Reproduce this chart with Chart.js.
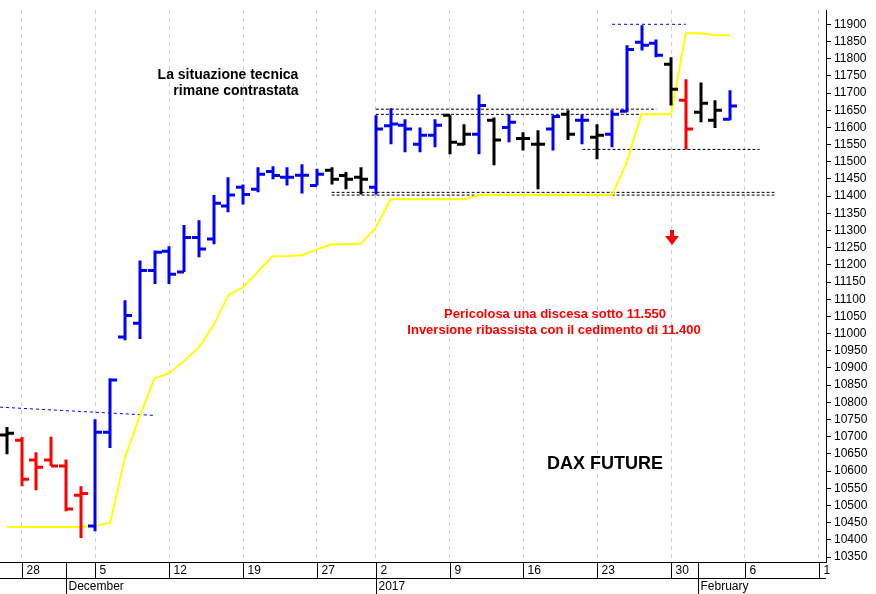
<!DOCTYPE html>
<html>
<head>
<meta charset="utf-8">
<script src="https://cdn.jsdelivr.net/npm/chart.js@4.4.0/dist/chart.umd.min.js"></script>
<style>body{margin:0;background:#fff}</style>
</head>
<body>
<canvas id="c" width="876" height="594"></canvas>
<script>
// daily bars, one slot per trading day (Nov 25 2016 .. Feb 3 2017)
var opens  = [10705,10690,10632,10632,10615,10530,10440,10713,10990,11030,11184,11240,11179,11280,11275,11371,11426,11420,11472,11455,11461,11431,11475,11460,11455,11426,11605,11606,11551,11577,11635,11551,11580,11621,11600,11568,11551,11595,11638,11621,11571,11580,11647,11848,11845,11784,11679,11644,11621,11624];
var highs  = [10728,10699,10655,10700,10634,10556,10751,10870,11097,11213,11242,11254,11316,11330,11403,11455,11434,11484,11487,11484,11493,11480,11484,11470,11484,11635,11656,11624,11600,11624,11635,11609,11696,11629,11638,11586,11592,11635,11650,11638,11609,11650,11839,11897,11856,11804,11740,11731,11679,11708];
var lows   = [10649,10556,10544,10615,10483,10405,10425,10667,10981,10984,11144,11144,11179,11222,11260,11353,11376,11411,11449,11431,11408,11431,11434,11420,11405,11405,11551,11528,11528,11542,11522,11548,11522,11490,11557,11533,11420,11533,11563,11551,11507,11542,11644,11824,11804,11664,11536,11615,11598,11621];
var closes = [10710,10576,10611,10615,10490,10535,10713,10865,11053,11184,11237,11173,11280,11246,11379,11403,11405,11464,11460,11455,11461,11464,11449,11449,11449,11595,11610,11595,11577,11606,11557,11580,11664,11563,11615,11568,11551,11632,11580,11621,11577,11638,11827,11839,11810,11711,11595,11670,11650,11662];
var colors = ['k','r','r','r','r','r','b','b','b','b','b','b','b','b','b','b','b','b','b','b','b','b','k','k','k','b','b','b','b','b','k','k','b','k','b','k','k','b','k','b','k','b','b','b','b','k','r','k','k','b'];
var trend  = [10437,10437,10437,10437,10437,10437,10440,10450,10640,10760,10870,10885,10920,10960,11024,11112,11135,11180,11225,11226,11228,11245,11260,11260,11262,11309,11391,11391,11391,11391,11391,11391,11403,11403,11403,11403,11403,11403,11403,11403,11403,11403,11499,11638,11638,11638,11874,11874,11868,11868];

var dayTicks   = [1,6,11,16,21,25,30,35,40,45,50,55];
var dayLabels  = ['28','5','12','19','27','2','9','16','23','30','6','1'];
var monthTicks = [4,25,46.8];
var monthLabels = ['December','2017','February'];
var yTicks = [];
for (var v = 10350; v <= 11900; v += 50) yTicks.push(v);

var palette = {k:'#000000', r:'#ff0000', b:'#0000ff'};

function seg(x0, y0, x1, y1) { return [{x:x0, y:y0}, {x:x1, y:y1}]; }

var ohlcPlugin = {
  id: 'ohlc',
  afterDatasetsDraw: function(chart) {
    var ctx = chart.ctx, xs = chart.scales.x, ys = chart.scales.y;
    ctx.save();
    ctx.lineWidth = 3;
    ctx.lineCap = 'butt';
    for (var i = 0; i < opens.length; i++) {
      var x = Math.round(xs.getPixelForValue(i));
      ctx.strokeStyle = palette[colors[i]];
      ctx.beginPath();
      ctx.moveTo(x, ys.getPixelForValue(highs[i]));
      ctx.lineTo(x, ys.getPixelForValue(lows[i]));
      ctx.moveTo(x - 7, ys.getPixelForValue(opens[i]));
      ctx.lineTo(x, ys.getPixelForValue(opens[i]));
      ctx.moveTo(x, ys.getPixelForValue(closes[i]));
      ctx.lineTo(x + 7, ys.getPixelForValue(closes[i]));
      ctx.stroke();
    }
    // texts
    ctx.textAlign = 'center';
    ctx.textBaseline = 'middle';
    ctx.fillStyle = '#000';
    ctx.font = 'bold 14px Arial, "Liberation Sans"';
    ctx.fillText('La situazione tecnica', 228, 75);
    ctx.fillText('rimane contrastata', 236, 91);
    ctx.font = 'bold 13px Arial, "Liberation Sans"';
    ctx.fillStyle = '#ff0000';
    ctx.fillText('Pericolosa una discesa sotto 11.550', 555, 314);
    ctx.fillText('Inversione ribassista con il cedimento di 11.400', 554, 330);
    ctx.fillStyle = '#000';
    ctx.font = 'bold 18px Arial, "Liberation Sans"';
    ctx.fillText('DAX FUTURE', 605, 464);
    // red arrow
    ctx.fillStyle = '#ff0000';
    ctx.fillRect(670, 230, 4, 6);
    ctx.beginPath();
    ctx.moveTo(665, 236); ctx.lineTo(679, 236); ctx.lineTo(672, 245); ctx.closePath();
    ctx.fill();
    // bottom axis
    var top = 562, W = chart.chartArea.right;
    ctx.strokeStyle = '#000'; ctx.lineWidth = 1;
    ctx.beginPath();
    ctx.moveTo(0, top + 0.5); ctx.lineTo(W, top + 0.5);
    ctx.moveTo(0, top + 16.5); ctx.lineTo(W, top + 16.5);
    ctx.stroke();
    ctx.font = '12px Arial, "Liberation Sans"';
    ctx.textAlign = 'left';
    ctx.fillStyle = '#000';
    dayTicks.forEach(function(t, k) {
      var x = Math.round(xs.getPixelForValue(t)) + 0.5;
      ctx.beginPath(); ctx.moveTo(x, top); ctx.lineTo(x, top + 16); ctx.stroke();
      ctx.fillText(dayLabels[k], x + 4, top + 9);
    });
    monthTicks.forEach(function(t, k) {
      var x = Math.round(xs.getPixelForValue(t)) + 0.5;
      ctx.beginPath(); ctx.moveTo(x, top); ctx.lineTo(x, top + 32); ctx.stroke();
      ctx.fillText(monthLabels[k], x + 2, top + 25);
    });
    ctx.restore();
  }
};

var idx = trend.map(function(_, i) { return i; });
function dotted(pts, color, dash) {
  return {type:'line', data:pts, borderColor:color, borderWidth:1, borderDash:dash || [3,2], pointRadius:0, fill:false};
}

new Chart(document.getElementById('c'), {
  type: 'line',
  data: {
    datasets: [
      {data: idx.map(function(i) { return {x:i, y:trend[i]}; }), borderColor:'#ffff00', borderWidth:2, pointRadius:0, tension:0, fill:false},
      dotted(seg(-0.47, 10786, 10, 10762), '#0000ff', [3,3]),
      dotted(seg(41, 11900, 46, 11900), '#0000ff', [3,3]),
      dotted(seg(25, 11653, 44, 11653), '#000'),
      dotted(seg(25, 11638, 44, 11638), '#000'),
      dotted(seg(22, 11411, 52, 11411), '#000'),
      dotted(seg(22, 11403, 52, 11403), '#000'),
      dotted(seg(39, 11536, 51, 11536), '#000')
    ]
  },
  options: {
    responsive: false,
    animation: false,
    layout: {padding: 0},
    plugins: {legend: {display:false}, tooltip: {enabled:false}},
    scales: {
      x: {
        type: 'linear', min: -0.47, max: 55.5,
        afterBuildTicks: function(s) { s.ticks = dayTicks.map(function(v) { return {value:v}; }); },
        afterFit: function(s) { s.height = 32; },
        ticks: {display:false},
        grid: {color:'#c8c8f0', drawTicks:false},
        border: {display:false, dash:[4,4]}
      },
      y: {
        position: 'right', min: 10335.5, max: 11941,
        afterBuildTicks: function(s) { s.ticks = yTicks.map(function(v) { return {value:v}; }); },
        afterFit: function(s) { s.width = 50; },
        ticks: {color:'#000', font:{size:12, family:'Arial, "Liberation Sans"'}, padding:3, callback: function(v) { return v; }},
        grid: {drawOnChartArea:false, color:'#000', tickLength:5},
        border: {color:'#000'}
      }
    }
  },
  plugins: [ohlcPlugin]
});
</script>
</body>
</html>
